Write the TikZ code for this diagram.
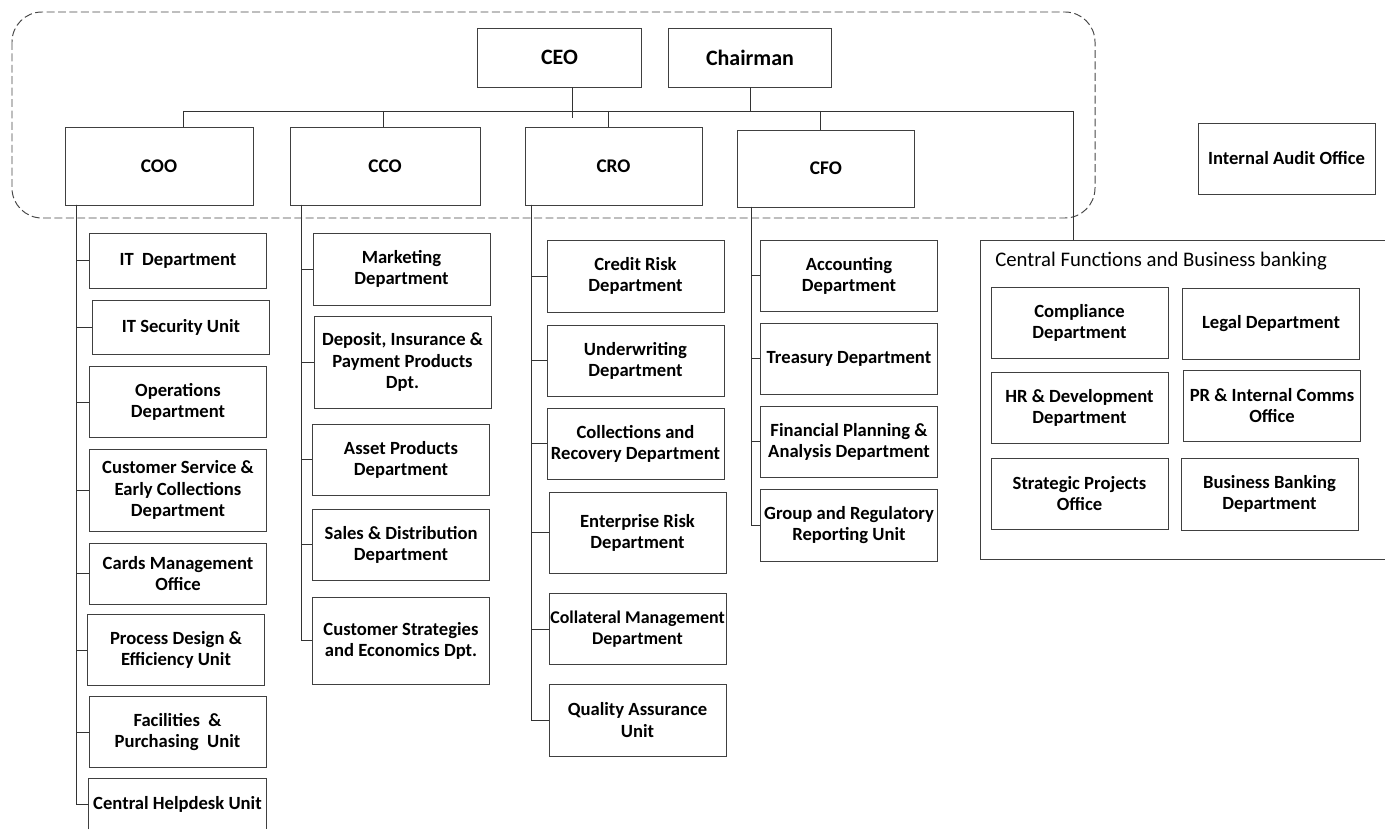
\documentclass[tikz,border=0pt]{standalone}
\usepackage{fontspec}
\setmainfont{Carlito}
\usepackage{tikz}

\begin{document}
\begin{tikzpicture}[x=0.02cm, y=-0.02cm, line width=0.55pt, black!80]

\useasboundingbox (0,0) rectangle (1385,830);

\tikzstyle{every node}=[black, font=\bfseries\fontsize{10.6}{12}\selectfont]
\tikzstyle{box}=[draw=black!75, align=center, inner sep=1pt, minimum width=3.54cm, minimum height=1.42cm]
\tikzstyle{chief}=[box, font=\bfseries\fontsize{11}{13}\selectfont, minimum height=1.56cm]
\tikzstyle{board}=[box, font=\bfseries\fontsize{12.5}{14}\selectfont, minimum width=3.27cm, minimum height=1.18cm]
\tikzstyle{elbow}=[to path={|- (\tikztotarget)}]

% dashed frame round the board and the chiefs
\draw [black!72, dashed, dash pattern=on 4.5pt off 2pt, rounded corners=0.6cm] (12,12) rectangle (1095,218);

% top level
\node [board] (ceo) at (559.5,57.5) {CEO};
\node [board] (chair) at (750,57.5) {Chairman};

\node [chief, minimum width=3.76cm] (coo) at (159,166) {COO};
\node [chief, minimum width=3.8cm] (cco) at (385,166) {CCO};
\node [chief] (cro) at (613.5,166) {CRO};
\node [chief, minimum height=1.54cm] (cfo) at (826,168.5) {CFO};
\node [box] (audit) at (1286.5,158.5) {Internal Audit Office};

% COO
\node [box, minimum height=1.1cm] (itdept) at (178,260.5) {IT\ \ Department};
\node [box, minimum height=1.08cm] (itsec) at (181,327) {IT Security Unit};
\node [box] (ops) at (178,402) {Operations\\Department};
\node [box, minimum height=1.64cm] (custsvc) at (178,490) {Customer Service \&\\Early Collections\\Department};
\node [box, minimum height=1.22cm] (cards) at (178,573.5) {Cards Management\\Office};
\node [box] (process) at (176,650) {Process Design \&\\Efficiency Unit};
\node [box] (facil) at (177.5,732) {Facilities\ \ \&\\Purchasing\ \ Unit};
\node [minimum width=3.54cm, minimum height=1cm, inner sep=1pt] (helpdesk) at (177.5,804) {Central Helpdesk Unit};
\draw [black!75] (helpdesk.south west) |- (helpdesk.north east) -- (helpdesk.south east);

% CCO
\node [box, minimum height=1.44cm] (mkt) at (401.5,269) {Marketing\\Department};
\node [box, minimum height=1.84cm] (deposit) at (402.5,362) {Deposit, Insurance \&\\Payment Products\\Dpt.};
\node [box] (asset) at (401,459.5) {Asset Products\\Department};
\node [box] (sales) at (401,544.5) {Sales \& Distribution\\Department};
\node [box, minimum height=1.74cm] (custstrat) at (401,640.5) {Customer Strategies\\and Economics Dpt.};

% CRO
\node [box, minimum height=1.44cm] (credit) at (635.5,276) {Credit Risk\\Department};
\node [box] (underw) at (635.5,360.5) {Underwriting\\Department};
\node [box] (collect) at (635.5,443.5) {Collections and\\Recovery Department};
\node [box, minimum height=1.62cm] (enterprise) at (637.5,532.5) {Enterprise Risk\\Department};
\node [box, inner xsep=0pt, font=\bfseries\fontsize{10.2}{12}\selectfont] (collat) at (637.5,629) {Collateral Management\\Department};
\node [box, minimum height=1.44cm] (quality) at (637.5,720) {Quality Assurance\\Unit};

% CFO
\node [box] (acct) at (849,275.5) {Accounting\\Department};
\node [box] (treas) at (849,358.5) {Treasury Department};
\node [box] (finplan) at (849,441.5) {Financial Planning \&\\Analysis Department};
\node [box, minimum height=1.44cm] (groupreg) at (849,525) {Group and Regulatory\\Reporting Unit};

% central functions
\draw [black!75] (1385,240) -| (980,559) -- (1385,559);
\node [anchor=west, font=\fontsize{11.8}{14}\selectfont] (cfbtitle) at (989,261) {Central Functions and Business banking};
\node [box] (compl) at (1079.5,323) {Compliance\\Department};
\node [box] (legal) at (1271,324) {Legal Department};
\node [box] (hr) at (1079.5,408) {HR \& Development\\Department};
\node [box] (pr) at (1272,405.5) {PR \& Internal Comms\\Office};
\node [box] (strat) at (1079.5,493.5) {Strategic Projects\\Office};
\node [box, minimum height=1.44cm] (busbank) at (1269.5,494) {Business Banking\\Department};

\coordinate (busL) at (183,111);
\coordinate (busR) at (1073,111);
\coordinate (ceoEnd) at (572,118);
\coordinate (cfbTop) at (1073,240);
\coordinate (dCCO) at (383,111);
\coordinate (dCRO) at (608,111);
\coordinate (dCFO) at (820,111);
\coordinate (cooT) at (76,205);
\coordinate (ccoT) at (301,205);
\coordinate (croT) at (531,205);
\coordinate (cfoT) at (751,207);

\path
(ceoEnd |- ceo.south) edge (ceoEnd)
(chair.south) edge (chair.south |- busL)
(busL) edge (busR)
(busR) edge (cfbTop)
(busL) edge (busL |- coo.north)
(dCCO) edge (dCCO |- cco.north)
(dCRO) edge (dCRO |- cro.north)
(dCFO) edge (dCFO |- cfo.north);

\path
(cooT) edge [elbow] (itdept.west)
(cooT) edge [elbow] (itsec.west)
(cooT) edge [elbow] (ops.west)
(cooT) edge [elbow] (custsvc.west)
(cooT) edge [elbow] (cards.west)
(cooT) edge [elbow] (process.west)
(cooT) edge [elbow] (facil.west)
(cooT) edge [elbow] (helpdesk.west)

(ccoT) edge [elbow] (mkt.west)
(ccoT) edge [elbow] (deposit.west)
(ccoT) edge [elbow] (asset.west)
(ccoT) edge [elbow] (sales.west)
(ccoT) edge [elbow] (custstrat.west)

(croT) edge [elbow] (credit.west)
(croT) edge [elbow] (underw.west)
(croT) edge [elbow] (collect.west)
(croT) edge [elbow] (enterprise.west)
(croT) edge [elbow] (collat.west)
(croT) edge [elbow] (quality.west)

(cfoT) edge [elbow] (acct.west)
(cfoT) edge [elbow] (treas.west)
(cfoT) edge [elbow] (finplan.west)
(cfoT) edge [elbow] (groupreg.west);
\end{tikzpicture}
\end{document}
